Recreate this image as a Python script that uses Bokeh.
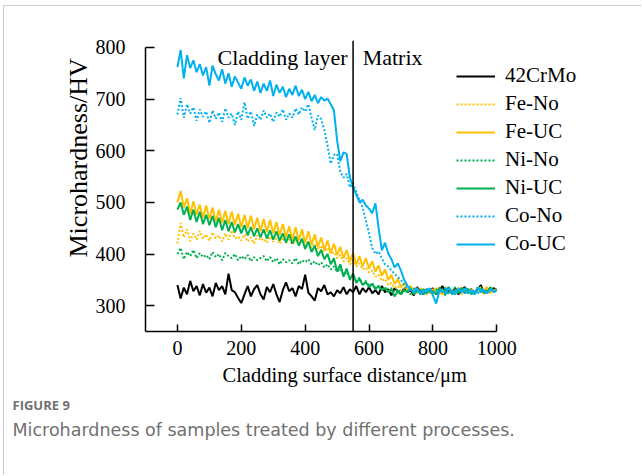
import math
from bokeh.plotting import figure
from bokeh.models import Span, Label, FixedTicker, Range1d, Title
from bokeh.embed import file_html
from bokeh.resources import INLINE

distance = list(range(0, 1001, 10))

crmo = [340, 314, 335, 322, 348, 328, 338, 320, 342, 325,
        335, 318, 344, 330, 338, 322, 362, 330, 326, 315,
        305, 322, 338, 318, 332, 340, 322, 312, 336, 326,
        342, 322, 307, 330, 345, 328, 334, 318, 338, 332,
        360, 325, 318, 310, 334, 328, 340, 322, 326, 318,
        330, 324, 336, 322, 332, 326, 338, 322, 334, 326,
        336, 324, 330, 322, 338, 326, 332, 320, 334, 328,
        322, 334, 326, 330, 320, 336, 328, 322, 332, 326,
        334, 322, 330, 338, 324, 330, 326, 334, 322, 330,
        336, 324, 332, 326, 330, 340, 324, 330, 326, 334,
        330]

fe_no = [420, 460, 432, 448, 425, 440, 428, 445, 430, 438,
         426, 442, 430, 436, 424, 440, 428, 446, 430, 434,
         426, 438, 424, 432, 420, 436, 426, 430, 422, 434,
         424, 430, 420, 432, 422, 428, 418, 426, 420, 424,
         416, 424, 412, 420, 408, 416, 404, 412, 400, 404,
         392, 398, 386, 392, 380, 388, 376, 382, 370, 374,
         364, 368, 356, 360, 348, 352, 340, 344, 334, 338,
         330, 334, 326, 332, 328, 324, 334, 328, 322, 332,
         326, 334, 322, 330, 336, 324, 330, 326, 334, 322,
         330, 326, 334, 324, 330, 336, 322, 332, 326, 330,
         328]

fe_uc = [500, 522, 490, 508, 478, 502, 476, 496, 470, 494,
         468, 490, 462, 486, 460, 484, 458, 482, 456, 478,
         452, 476, 450, 474, 448, 470, 444, 468, 442, 466,
         440, 462, 436, 458, 432, 454, 428, 452, 426, 448,
         422, 444, 418, 438, 414, 432, 408, 426, 402, 420,
         398, 414, 392, 408, 386, 402, 380, 396, 376, 392,
         372, 386, 366, 378, 358, 370, 350, 360, 342, 352,
         336, 344, 330, 338, 326, 334, 322, 332, 328, 324,
         332, 326, 336, 322, 330, 334, 324, 330, 326, 336,
         324, 332, 328, 322, 334, 326, 330, 336, 324, 330,
         332]

ni_no = [400, 412, 390, 404, 396, 408, 392, 402, 394, 398,
         390, 404, 394, 400, 388, 402, 396, 392, 400, 388,
         396, 390, 398, 386, 394, 388, 392, 396, 386, 394,
         384, 392, 380, 390, 384, 388, 382, 392, 380, 388,
         384, 390, 380, 386, 378, 384, 374, 380, 370, 376,
         366, 372, 360, 366, 354, 360, 348, 354, 342, 348,
         338, 344, 334, 338, 330, 336, 328, 334, 326, 332,
         324, 332, 328, 322, 334, 326, 330, 324, 332, 328,
         322, 330, 334, 326, 320, 332, 328, 336, 324, 330,
         326, 334, 322, 330, 328, 336, 324, 330, 334, 326,
         330]

ni_uc = [486, 500, 476, 492, 466, 486, 462, 482, 458, 476,
         456, 474, 452, 470, 446, 466, 444, 462, 442, 458,
         440, 456, 436, 452, 434, 450, 432, 448, 430, 446,
         428, 444, 426, 440, 422, 438, 420, 434, 416, 430,
         410, 424, 404, 416, 396, 408, 390, 400, 380, 392,
         366, 380, 356, 372, 350, 362, 344, 352, 340, 346,
         336, 342, 332, 338, 330, 334, 326, 332, 318, 328,
         322, 330, 326, 334, 322, 330, 326, 332, 324, 330,
         328, 322, 334, 326, 330, 336, 322, 330, 326, 334,
         324, 332, 326, 322, 334, 328, 330, 324, 336, 328,
         330]

co_no = [670, 702, 664, 690, 672, 684, 658, 680, 666, 676,
         654, 678, 662, 674, 656, 682, 664, 672, 650, 676,
         660, 694, 662, 676, 648, 670, 660, 678, 664, 672,
         656, 674, 666, 680, 660, 672, 664, 682, 670, 684,
         676, 690, 664, 640, 668, 662, 640, 610, 575, 592,
         594, 560, 548, 555, 529, 537, 520, 505, 490, 465,
         440, 412, 400, 405, 392, 380, 376, 368, 362, 355,
         350, 340, 334, 328, 332, 326, 330, 322, 334, 328,
         328, 324, 332, 326, 336, 322, 330, 326, 334, 328,
         324, 332, 326, 330, 322, 334, 328, 324, 332, 326,
         330]

co_uc = [762, 795, 740, 785, 760, 775, 752, 768, 746, 762,
         726, 765, 748, 736, 758, 730, 750, 724, 744, 732,
         720, 742, 726, 738, 716, 734, 712, 730, 716, 736,
         706, 728, 712, 724, 704, 720, 708, 726, 706, 718,
         700, 714, 696, 708, 692, 704, 697, 701, 690, 678,
         620, 580, 597, 594, 548, 530, 515, 500, 505, 494,
         488, 479, 498, 450, 407, 422, 401, 390, 374, 382,
         368, 350, 339, 332, 326, 334, 322, 330, 326, 334,
         320, 304, 328, 330, 324, 334, 326, 322, 332, 326,
         334, 324, 330, 322, 336, 326, 330, 324, 332, 328,
         330]

series_names = ["42CrMo", "Fe-No", "Fe-UC", "Ni-No", "Ni-UC", "Co-No", "Co-UC"]
series_values = [crmo, fe_no, fe_uc, ni_no, ni_uc, co_no, co_uc]
series_colors = ["#000000", "#FFC000", "#FFC000", "#00B050", "#00B050", "#00B0F0", "#00B0F0"]
series_dotted = [False, True, False, True, False, True, False]

x_ticks = [0, 200, 400, 600, 800, 1000]
y_ticks = [300, 400, 500, 600, 700, 800]
boundary = 550

SERIF = "Liberation Serif"

p = figure(width=638, height=470, output_backend="svg", toolbar_location=None,
           x_range=Range1d(-100, 1450), y_range=Range1d(250, 813.5),
           min_border_left=141, min_border_right=2, min_border_top=34,
           min_border_bottom=145,
           styles={"margin-left": "3px", "margin-top": "5px",
                   "border-left": "1px solid #cccccc", "border-top": "1px solid #cccccc"})
p.outline_line_color = None
p.grid.visible = False
p.background_fill_color = "white"
p.border_fill_color = "white"

for name, vals, col, dotted in zip(series_names, series_values, series_colors, series_dotted):
    p.line(distance, vals, line_color=col, line_width=2,
           line_dash="2 2" if dotted else "solid", legend_label=name)

p.add_layout(Span(location=boundary, dimension="height", line_color="black", line_width=1.5))

for ax in (p.xaxis[0], p.yaxis[0]):
    ax.axis_line_color = "black"
    ax.axis_line_width = 1.5
    ax.major_tick_line_color = "black"
    ax.major_tick_line_width = 1.5
    ax.minor_tick_line_color = None
    ax.major_tick_out = 0
    ax.major_label_text_font = SERIF
    ax.major_label_text_font_size = "20px"
    ax.major_label_text_color = "black"

p.xaxis.bounds = (-100, 1000)
p.xaxis.ticker = FixedTicker(ticks=x_ticks)
p.xaxis.major_tick_in = 7
p.xaxis.major_label_standoff = 9

p.yaxis.bounds = (250, 800)
p.yaxis.ticker = FixedTicker(ticks=y_ticks)
p.yaxis.major_tick_in = 9
p.yaxis.major_label_standoff = 20

# axis titles and caption as side-panel titles
p.add_layout(Title(text="Microhardness/HV", align="left", offset=74,
                   text_font=SERIF, text_font_size="26px", text_font_style="normal",
                   text_color="black", standoff=0), "left")
p.add_layout(Title(text="Cladding surface distance/\u03bcm", align="left", offset=77,
                   text_font=SERIF, text_font_size="20.5px", text_font_style="normal",
                   text_color="black", standoff=8), "below")
p.add_layout(Title(text="FIGURE 9", align="left", offset=-133,
                   text_font="Open Sans", text_font_size="13px", text_font_style="bold",
                   text_color="#707070", standoff=8), "below")
p.add_layout(Title(text="Microhardness of samples treated by different processes.",
                   align="left", offset=-133,
                   text_font="DejaVu Sans", text_font_size="17.5px", text_font_style="normal",
                   text_color="#707070", standoff=0), "below")

lg = p.legend[0]
lg.location = (311, 75)
lg.border_line_color = None
lg.background_fill_alpha = 0
lg.padding = 0
lg.margin = 0
lg.spacing = 3
lg.glyph_width = 39
lg.glyph_height = 20
lg.label_height = 20
lg.label_standoff = 10
lg.label_text_font = SERIF
lg.label_text_font_size = "21px"
lg.label_text_color = "black"

# region annotations
p.add_layout(Label(x=boundary - 17, y=781, text="Cladding layer", text_align="right",
                   text_baseline="middle", text_font=SERIF, text_font_size="22px",
                   text_color="black"))
p.add_layout(Label(x=boundary + 30, y=781, text="Matrix", text_align="left",
                   text_baseline="middle", text_font=SERIF, text_font_size="22px",
                   text_color="black"))

open("out.html", "w").write(file_html(p, INLINE))
